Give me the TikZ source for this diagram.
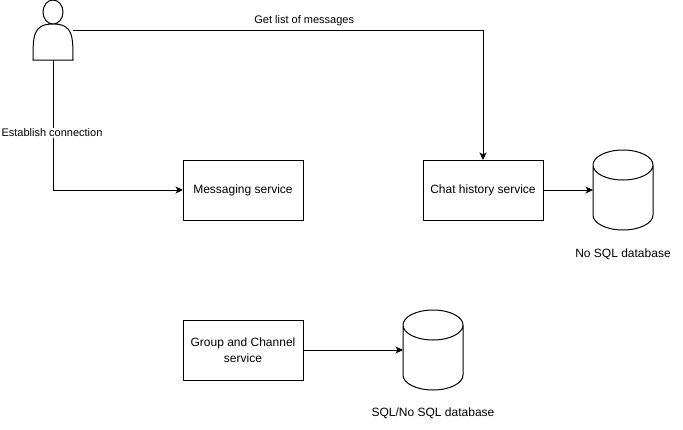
\documentclass[tikz,border=0pt]{standalone}
\usepackage{fontspec}
\setmainfont{Liberation Sans}
\usetikzlibrary{arrows.meta, positioning}

\newcommand{\dbcylinder}[1]{%
  \draw[shift={(#1.north west)}] (0,15) arc[start angle=180, end angle=0, x radius=30pt, y radius=15pt]
    -- (60,65) arc[start angle=0, end angle=-180, x radius=30pt, y radius=15pt] -- cycle
    (0,15) arc[start angle=180, end angle=360, x radius=30pt, y radius=15pt];}

\begin{document}
\begin{tikzpicture}[
  x=1pt, y=-1pt,
  line width=1pt,
  font=\fontsize{12}{16}\selectfont,
  service/.style={draw, align=center, inner sep=0pt, outer sep=0pt, minimum width=120pt, minimum height=60pt},
  dbnode/.style={inner sep=0pt, outer sep=0pt, minimum width=60pt, minimum height=80pt},
  user/.style={inner sep=0pt, outer sep=0pt, minimum width=40pt, minimum height=60pt},
  note/.style={inner sep=1pt},
  edgenote/.style={font=\fontsize{11}{13}\selectfont, inner sep=1pt},
  line/.style={-{Stealth[length=7.5pt, width=7pt, inset=2pt]}}
]
\useasboundingbox (0,0) rectangle (683,429);

% Row 1: user and services
\node[user] (actor) at (53,30) {};
\node[service, text depth=1pt] (messaging) at (243,190) {Messaging service};
\node[service, text depth=1pt, right=120pt of messaging] (chat) {Chat history service};
\node[dbnode, right=50pt of chat] (nosql) {};
\node[note, below=17pt of nosql] (nosqllabel) {No SQL database};

% Row 2: group service
\node[service, below=100pt of messaging] (group) {Group and Channel\\service};
\node[dbnode, right=100pt of group] (sql) {};
\node[note, below=16pt of sql] (sqllabel) {SQL/No SQL database};

% Shapes without a node shape
\draw[shift={(actor.north west)}] (20,12) ellipse[x radius=10pt, y radius=12pt]
  (0,60) .. controls (0,36) and (0,24) .. (20,24) .. controls (40,24) and (40,36) .. (40,60) -- cycle;
\dbcylinder{nosql}
\dbcylinder{sql}

% Connections
\draw[line] (actor.east) -| node[pos=0.282, above=2.5pt, edgenote] (listlabel) {Get list of messages} (chat.north);
\draw[line] (actor.south) |- node[pos=0.277, xshift=-1pt, yshift=-0.7pt, fill=white, edgenote] (connlabel) {Establish connection} (messaging.west);
\draw[line] (chat.east) -- (nosql.west);
\draw[line] (group.east) -- (sql.west);

\end{tikzpicture}
\end{document}
